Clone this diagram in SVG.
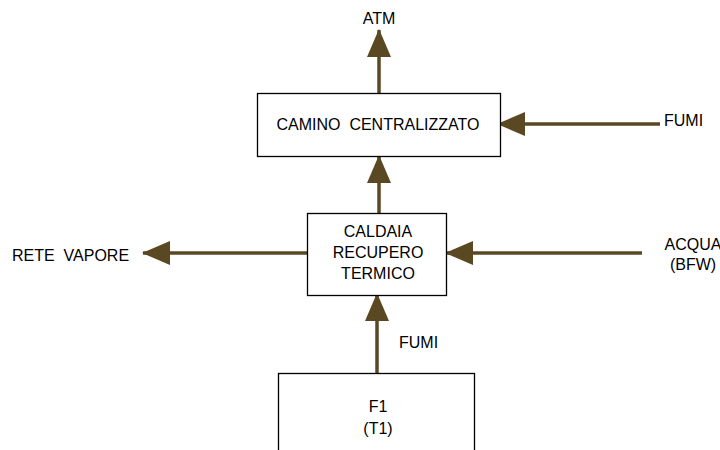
<svg xmlns="http://www.w3.org/2000/svg" width="720" height="450" viewBox="0 0 720 450">
<style>
.box{fill:#fff;stroke:#000;stroke-width:1.3}
.t{font-family:"Liberation Sans",Arial,sans-serif;font-size:16px;fill:#000;white-space:pre}
.m{text-anchor:middle}
.flow{stroke:#5a4823;stroke-width:3.5;fill:none;marker-end:url(#ah)}
</style>
<defs>
<marker id="ah" viewBox="0 0 28 24" refX="27" refY="12" markerWidth="28" markerHeight="24" markerUnits="userSpaceOnUse" orient="auto">
<path d="M0,0 L28,12 L0,24 Z" fill="#5a4823"/>
</marker>
</defs>
<rect width="720" height="450" fill="#fff"/>
<g id="connectors">
<line class="flow" x1="379" y1="93" x2="379" y2="30"/>
<line class="flow" x1="379" y1="213" x2="379" y2="156"/>
<line class="flow" x1="660" y1="124" x2="498" y2="124"/>
<line class="flow" x1="307" y1="253" x2="143" y2="253"/>
<line class="flow" x1="642" y1="253" x2="446" y2="253"/>
<line class="flow" x1="377" y1="373" x2="377" y2="294"/>
</g>
<g id="camino">
<rect class="box" x="257.5" y="93.5" width="243" height="63"/>
<text class="t m" x="378" y="130" xml:space="preserve">CAMINO  CENTRALIZZATO</text>
</g>
<g id="caldaia">
<rect class="box" x="307.5" y="213.5" width="139" height="82"/>
<text class="t m" x="378" y="237">CALDAIA</text>
<text class="t m" x="378" y="258">RECUPERO</text>
<text class="t m" x="378" y="279">TERMICO</text>
</g>
<g id="f1">
<rect class="box" x="278.5" y="373.5" width="196" height="90"/>
<text class="t m" x="378" y="412">F1</text>
<text class="t m" x="378" y="434">(T1)</text>
</g>
<g id="labels">
<text class="t m" x="379" y="24">ATM</text>
<text class="t" x="664" y="126">FUMI</text>
<text class="t" x="12" y="261" xml:space="preserve">RETE  VAPORE</text>
<text class="t m" x="693" y="250">ACQUA</text>
<text class="t m" x="693" y="270">(BFW)</text>
<text class="t" x="399" y="348">FUMI</text>
</g>
</svg>
